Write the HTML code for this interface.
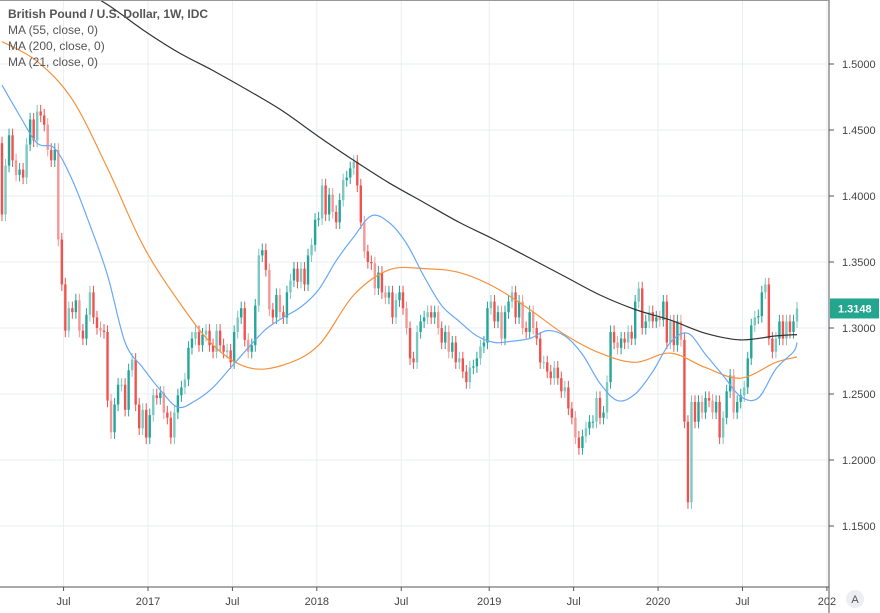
<!DOCTYPE html>
<html><head><meta charset="utf-8"><style>
html,body{margin:0;padding:0;background:#fff;}
svg{display:block;font-family:"Liberation Sans",sans-serif;}
</style></head><body>
<svg id="chart" width="880" height="613">
<g id="grid"></g>
<g id="plot"></g>
<g id="axes"></g>
<g font-size="12" fill="#555">
<text x="8" y="18" font-weight="bold">British Pound / U.S. Dollar, 1W, IDC</text>
<text x="8" y="34">MA (55, close, 0)</text>
<text x="8" y="50">MA (200, close, 0)</text>
<text x="8" y="66">MA (21, close, 0)</text>
</g>
</svg>
<script>
const closes=[1.386,1.423,1.446,1.427,1.416,1.420,1.414,1.439,1.458,1.442,1.464,1.461,1.454,1.435,1.427,1.435,1.367,1.333,1.298,1.315,1.312,1.321,1.298,1.292,1.310,1.327,1.308,1.300,1.298,1.297,
1.245,1.221,1.242,1.257,1.257,1.238,1.268,1.276,1.242,1.224,1.238,1.217,1.234,1.249,1.247,1.251,1.236,1.232,1.217,1.236,1.249,1.255,1.261,1.285,1.292,1.297,1.287,1.295,1.298,1.287,
1.282,1.298,1.287,1.282,1.283,1.274,1.297,1.308,1.315,1.291,1.282,1.287,1.317,1.355,1.359,1.344,1.314,1.308,1.325,1.312,1.308,1.327,1.336,1.345,1.335,1.345,1.333,1.355,1.363,1.382,
1.383,1.408,1.386,1.401,1.388,1.380,1.397,1.412,1.414,1.421,1.426,1.408,1.380,1.358,1.350,1.349,1.330,1.342,1.327,1.323,1.327,1.308,1.321,1.327,1.315,1.300,1.277,1.274,1.297,1.305,
1.308,1.312,1.308,1.312,1.300,1.289,1.297,1.282,1.289,1.274,1.277,1.267,1.259,1.270,1.271,1.277,1.286,1.289,1.315,1.320,1.305,1.312,1.292,1.312,1.320,1.327,1.308,1.320,1.300,1.297,
1.312,1.300,1.292,1.274,1.274,1.267,1.262,1.270,1.262,1.252,1.255,1.239,1.232,1.217,1.209,1.218,1.224,1.229,1.229,1.247,1.232,1.236,1.259,1.297,1.289,1.285,1.292,1.289,1.297,1.292,
1.320,1.330,1.300,1.305,1.312,1.305,1.308,1.306,1.320,1.289,1.305,1.287,1.305,1.291,1.229,1.168,1.244,1.229,1.244,1.236,1.247,1.245,1.236,1.244,1.217,1.232,1.252,1.264,1.236,1.244,
1.249,1.255,1.277,1.302,1.308,1.309,1.327,1.333,1.292,1.282,1.292,1.305,1.292,1.305,1.297,1.305,1.3148];
const firstOpen=1.440;
const ma21=[1.484,1.461,1.440,1.436,1.412,1.378,1.340,1.289,1.270,1.253,1.240,1.245,1.255,1.270,1.285,1.299,1.308,1.316,1.329,1.351,1.369,1.385,1.380,1.364,1.339,1.317,1.305,1.294,1.289,1.290,1.292,1.298,1.294,1.280,1.258,1.245,1.250,1.267,1.289,1.296,1.280,1.264,1.248,1.247,1.269,1.282,1.289];
const ma55=[1.517,1.502,1.473,1.421,1.363,1.321,1.287,1.270,1.272,1.287,1.325,1.344,1.345,1.342,1.331,1.314,1.295,1.281,1.274,1.281,1.270,1.262,1.274,1.278];
const ma200=[1.592,1.576,1.560,1.545,1.526,1.509,1.495,1.480,1.464,1.445,1.427,1.410,1.395,1.380,1.367,1.353,1.339,1.325,1.314,1.306,1.296,1.291,1.294,1.295];
const priceTicks=[1.15,1.20,1.25,1.30,1.35,1.40,1.45,1.50];
const timeLabels=["Jul","2017","Jul","2018","Jul","2019","Jul","2020","Jul","202"];
const timeWeeks=[17.5,41.5,65.5,89.5,113.5,138.5,162.5,186.5,210.5,234.5];
const lastPrice=1.3148;

const NS="http://www.w3.org/2000/svg";
const PW=829,PH=587;
const n=closes.length;
const step=795/(n-1);
const y=p=>328-(p-1.30)*1320;
const x=i=>2+i*step;
function mk(tag,attrs,parent){const e=document.createElementNS(NS,tag);for(const k in attrs)e.setAttribute(k,attrs[k]);parent.appendChild(e);return e;}
const grid=document.getElementById('grid'),plot=document.getElementById('plot'),axes=document.getElementById('axes');
const defs=mk('defs',{},document.getElementById('chart'));
const cp=mk('clipPath',{id:'clip'},defs);mk('rect',{x:0,y:0,width:PW,height:PH},cp);
plot.setAttribute('clip-path','url(#clip)');
priceTicks.forEach(p=>{
 const l=mk('line',{x1:0,x2:PW,y1:y(p),y2:y(p),stroke:'#e8eef3','stroke-width':1},grid);
 
 
 const tk=mk('line',{x1:PW,x2:PW+5,y1:y(p),y2:y(p),stroke:'#555'},axes);
 
 
 const t=mk('text',{x:842,y:y(p)+4,'font-size':11,fill:'#444'},axes);
 t.textContent=p.toFixed(4);
 
 
});
timeWeeks.forEach((w,k)=>{
 const xx=x(w);
 const l=mk('line',{x1:xx,x2:xx,y1:0,y2:PH,stroke:'#e8eef3'},grid);
 
 
 const tk=mk('line',{x1:xx,x2:xx,y1:PH,y2:PH+4,stroke:'#555'},axes);
 
 
 const t=mk('text',{x:xx,y:605,'font-size':11,fill:'#444','text-anchor':'middle'},axes);
 t.textContent=timeLabels[k];
 
 
});
for(let i=0;i<n;i++){
 const o=i?closes[i-1]:firstOpen,c=closes[i];
 const up=c>=o,col=up?'#26a69a':'#ef5350';
 const hi=Math.max(o,c)+0.005,lo=Math.min(o,c)-0.005;
 const g=mk('g',{opacity:(i%3==1)?0.6:1},plot);
 
 
 mk('line',{x1:x(i),x2:x(i),y1:y(hi),y2:y(lo),stroke:col,'stroke-width':1},g);
 const top=y(Math.max(o,c)),bot=y(Math.min(o,c));
 mk('rect',{x:x(i)-1.2,y:top,width:2.4,height:Math.max(1,bot-top),fill:col},g);
}
function maLine(arr,stride,col,name){
 const m=arr.length;
 const P=arr.map((v,k)=>[x(k<m-1?k*stride:n-1),y(v)]);
 let d='M'+P[0][0].toFixed(1)+','+P[0][1].toFixed(1);
 for(let i=0;i<m-1;i++){
  const p0=P[Math.max(0,i-1)],p1=P[i],p2=P[i+1],p3=P[Math.min(m-1,i+2)];
  const c1=[p1[0]+(p2[0]-p0[0])/6,p1[1]+(p2[1]-p0[1])/6];
  const c2=[p2[0]-(p3[0]-p1[0])/6,p2[1]-(p3[1]-p1[1])/6];
  d+=' C'+c1.map(v=>v.toFixed(1)).join(',')+' '+c2.map(v=>v.toFixed(1)).join(',')+' '+p2.map(v=>v.toFixed(1)).join(',');
 }
 const pl=mk('path',{d:d,fill:'none',stroke:col,'stroke-width':1.2},plot);
 
 
}
maLine(ma55,10,'#f7913b','ma55-line');
maLine(ma200,10,'#333','ma200-line');
maLine(ma21,5,'#6aa9f4','ma21-line');
let e=mk('line',{x1:0,x2:PW,y1:PH,y2:PH,stroke:'#555'},axes);


e=mk('line',{x1:PW,x2:PW,y1:0,y2:613,stroke:'#555'},axes);


e=mk('line',{x1:0,x2:PW,y1:0.5,y2:0.5,stroke:'#999'},axes);


const pg=mk('g',{},axes);


mk('rect',{x:PW+1,y:y(lastPrice)-10,width:49,height:20,fill:'#22a68f'},pg);
const pt=mk('text',{x:838,y:y(lastPrice)+4,'font-size':11,fill:'#fff','font-weight':'bold'},pg);
pt.textContent=lastPrice.toFixed(4);
const ab=mk('g',{},axes);


mk('circle',{cx:855,cy:599,r:9,fill:'#eceef2'},ab);
const at=mk('text',{x:855,y:603,'font-size':11,fill:'#555','text-anchor':'middle'},ab);
at.textContent='A';
</script>
</body></html>
